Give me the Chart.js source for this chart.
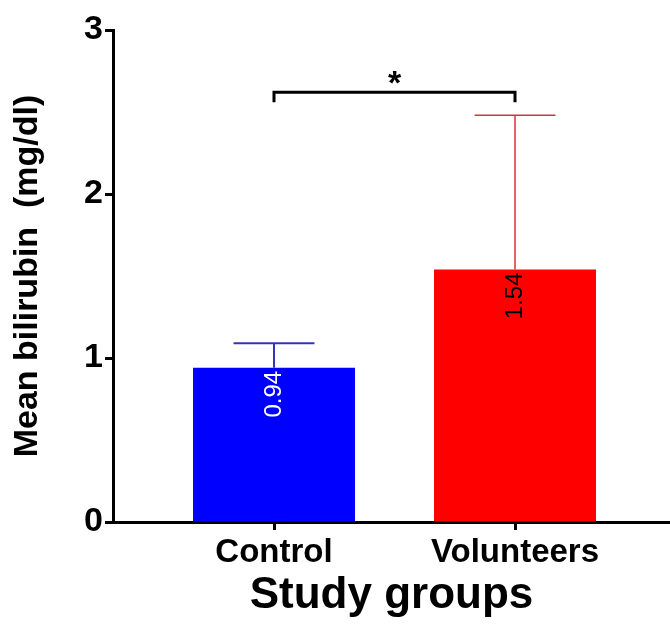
<!DOCTYPE html>
<html>
<head>
<meta charset="utf-8">
<script src="https://cdn.jsdelivr.net/npm/chart.js@4"></script>
<style>
  html, body { margin: 0; padding: 0; background: white; }
  #wrap { width: 670px; height: 628px; }
</style>
</head>
<body>
<div id="wrap"><canvas id="chart" width="670" height="628"></canvas></div>
<script>
// data
const groups = ['Control', 'Volunteers'];
const means = [0.94, 1.54];
const sds = [0.15, 0.94];
const barColors = ['#0000ff', '#ff0000'];
const errColors = ['#3535b0', '#d83232'];
const labelColors = ['white', 'black'];
const yTicks = [0, 1, 2, 3];
const bracketLevel = 2.62; // significance bracket, Control vs Volunteers
const bracketText = '*';

const FONT = "'Liberation Sans', Arial, sans-serif";

// error bars, value labels and the significance bracket
const extras = {
  id: 'extras',
  afterDatasetsDraw(chart) {
    const {ctx, scales: {x, y}} = chart;
    const bars = chart.getDatasetMeta(0).data;
    ctx.save();
    bars.forEach((bar, i) => {
      const top = y.getPixelForValue(means[i] + sds[i]);
      const half = bar.width / 4;
      ctx.strokeStyle = errColors[i];
      ctx.lineWidth = i === 0 ? 2 : 1.5;
      ctx.beginPath();
      ctx.moveTo(bar.x, bar.y);
      ctx.lineTo(bar.x, top);
      ctx.moveTo(bar.x - half, top);
      ctx.lineTo(bar.x + half, top);
      ctx.stroke();

      // rotated value label, reading bottom to top
      ctx.save();
      ctx.translate(bar.x, bar.y + 3);
      ctx.rotate(-Math.PI / 2);
      ctx.font = '24px ' + FONT;
      ctx.fillStyle = labelColors[i];
      ctx.textAlign = 'right';
      ctx.textBaseline = 'middle';
      ctx.fillText(means[i].toFixed(2), 0, 0);
      ctx.restore();
    });

    const x0 = x.getPixelForValue(0);
    const x1 = x.getPixelForValue(1);
    const by = y.getPixelForValue(bracketLevel);
    ctx.strokeStyle = 'black';
    ctx.lineWidth = 3;
    ctx.beginPath();
    ctx.moveTo(x0, by + 10);
    ctx.lineTo(x0, by);
    ctx.lineTo(x1, by);
    ctx.lineTo(x1, by + 10);
    ctx.stroke();
    ctx.font = 'bold 34px ' + FONT;
    ctx.fillStyle = 'black';
    ctx.textAlign = 'center';
    ctx.textBaseline = 'alphabetic';
    ctx.fillText(bracketText, (x0 + x1) / 2, by + 2);
    ctx.restore();
  }
};

new Chart(document.getElementById('chart'), {
  type: 'bar',
  data: {
    datasets: [{
      data: groups.map((g, i) => ({x: i, y: means[i]})),
      backgroundColor: barColors,
      borderWidth: 0,
      barPercentage: 0.672,
      categoryPercentage: 1
    }]
  },
  options: {
    responsive: false,
    animation: false,
    layout: { padding: { top: 30, left: 0, right: 0, bottom: 0 } },
    plugins: {
      legend: { display: false },
      tooltip: { enabled: false }
    },
    scales: {
      x: {
        type: 'linear',
        offset: false,
        min: -0.668,
        max: 1.643,
        afterBuildTicks: (axis) => { axis.ticks = groups.map((g, i) => ({value: i})); },
        afterFit: (axis) => { axis.height = 106; },
        ticks: {
          callback: (v) => groups[v],
          color: 'black',
          font: { family: FONT, size: 33, weight: 'bold' },
          padding: 3,
          maxRotation: 0,
          autoSkip: false
        },
        grid: {
          offset: false,
          drawOnChartArea: false,
          drawTicks: true,
          tickLength: 8,
          tickWidth: 3,
          tickColor: 'black'
        },
        border: { display: true, color: 'black', width: 3 },
        title: {
          display: true,
          text: 'Study groups',
          color: 'black',
          font: { family: FONT, size: 44, weight: 'bold' },
          padding: { top: 0, bottom: 6 }
        }
      },
      y: {
        min: 0,
        max: 3,
        afterBuildTicks: (axis) => { axis.ticks = yTicks.map(v => ({value: v})); },
        afterFit: (axis) => { axis.width = 113; },
        ticks: {
          color: 'black',
          font: { family: FONT, size: 34, weight: 'bold' },
          padding: 2
        },
        grid: {
          drawOnChartArea: false,
          drawTicks: true,
          tickLength: 8,
          tickWidth: 3,
          tickColor: 'black'
        },
        border: { display: true, color: 'black', width: 3 },
        title: {
          display: true,
          text: 'Mean bilirubin  (mg/dl)',
          color: 'black',
          font: { family: FONT, size: 34, weight: 'bold' },
          padding: { top: 7, bottom: 0 }
        }
      }
    }
  },
  plugins: [extras]
});
</script>
</body>
</html>
